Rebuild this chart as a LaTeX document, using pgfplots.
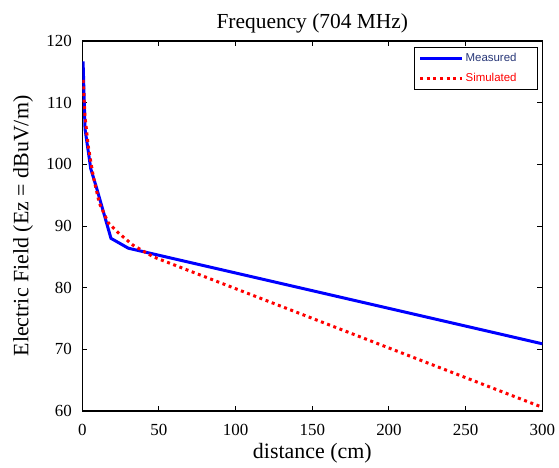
\documentclass[border=0pt]{standalone}
\usepackage{pgfplots}
\pgfplotsset{compat=1.18}
\usepackage{fontspec}
\setmainfont{Liberation Serif}
\newfontfamily\legfont{Liberation Sans}
\definecolor{legblue}{RGB}{40,55,120}
\begin{document}
\begin{tikzpicture}
\begin{axis}[
  at={(0bp,0bp)}, anchor=south west,
  scale only axis, width=460bp, height=370bp,
  xmin=0, xmax=300, ymin=60, ymax=120,
  xtick={0,50,100,150,200,250,300},
  ytick={60,70,80,90,100,110,120},
  tick align=inside,
  major tick length=5bp,
  axis line style={line width=1.4bp},
  every tick/.style={black, line width=1bp},
  /pgf/number format/assume math mode=true,
  ticklabel style={font=\fontsize{17}{20}\selectfont},
  xticklabel style={yshift=-10bp},
  yticklabel style={xshift=-7bp},
  every axis title shift=0pt,
  title={Frequency (704 MHz)},
  title style={font=\fontsize{21.5}{24}\selectfont, at={(axis description cs:0.5,1.0351)}, anchor=base},
  xlabel={distance (cm)},
  xlabel style={font=\fontsize{22}{24}\selectfont, at={(axis description cs:0.5,-0.1297)}, anchor=base},
  ylabel={Electric Field (Ez = dBuV/m)},
  ylabel style={font=\fontsize{22}{24}\selectfont, at={(axis description cs:-0.1174,0.5)}, anchor=base, rotate=0},
  legend style={at={(axis description cs:1,1)}, anchor=north east, xshift=-4.3bp, yshift=-5.7bp,
    font=\legfont\fontsize{11.5}{13}\selectfont, draw=black, line width=0.8bp,
    inner xsep=4bp, inner ysep=4.5bp, row sep=6bp, cells={anchor=west}},
  legend image code/.code={\draw[#1] (0bp,0bp) -- (42bp,0bp);},
]
\addplot[blue, line width=3bp] coordinates {
 (0.5,116.7) (1.8,105.7) (5.5,99.3) (9.4,96.1) (18.7,88.0) (30,86.4) (300,70.9)
};
\addlegendentry[text=legblue]{\makebox[66bp][l]{Measured}}
\addplot[red, line width=3bp, dash pattern=on 3bp off 3.6bp] coordinates {
 (0.5,113.7) (1.8,107.7) (3.9,102.9) (7.2,98.0) (11.1,93.7) (17,90.5) (23.5,88.9) (33,86.9) (46.3,85.0) (300,60.6)
};
\addlegendentry[text=red]{\makebox[66bp][l]{Simulated}}
\end{axis}
\pgfresetboundingbox
\path[use as bounding box] (-82.3bp,-57bp) rectangle (476.7bp,411bp);
\end{tikzpicture}
\end{document}
